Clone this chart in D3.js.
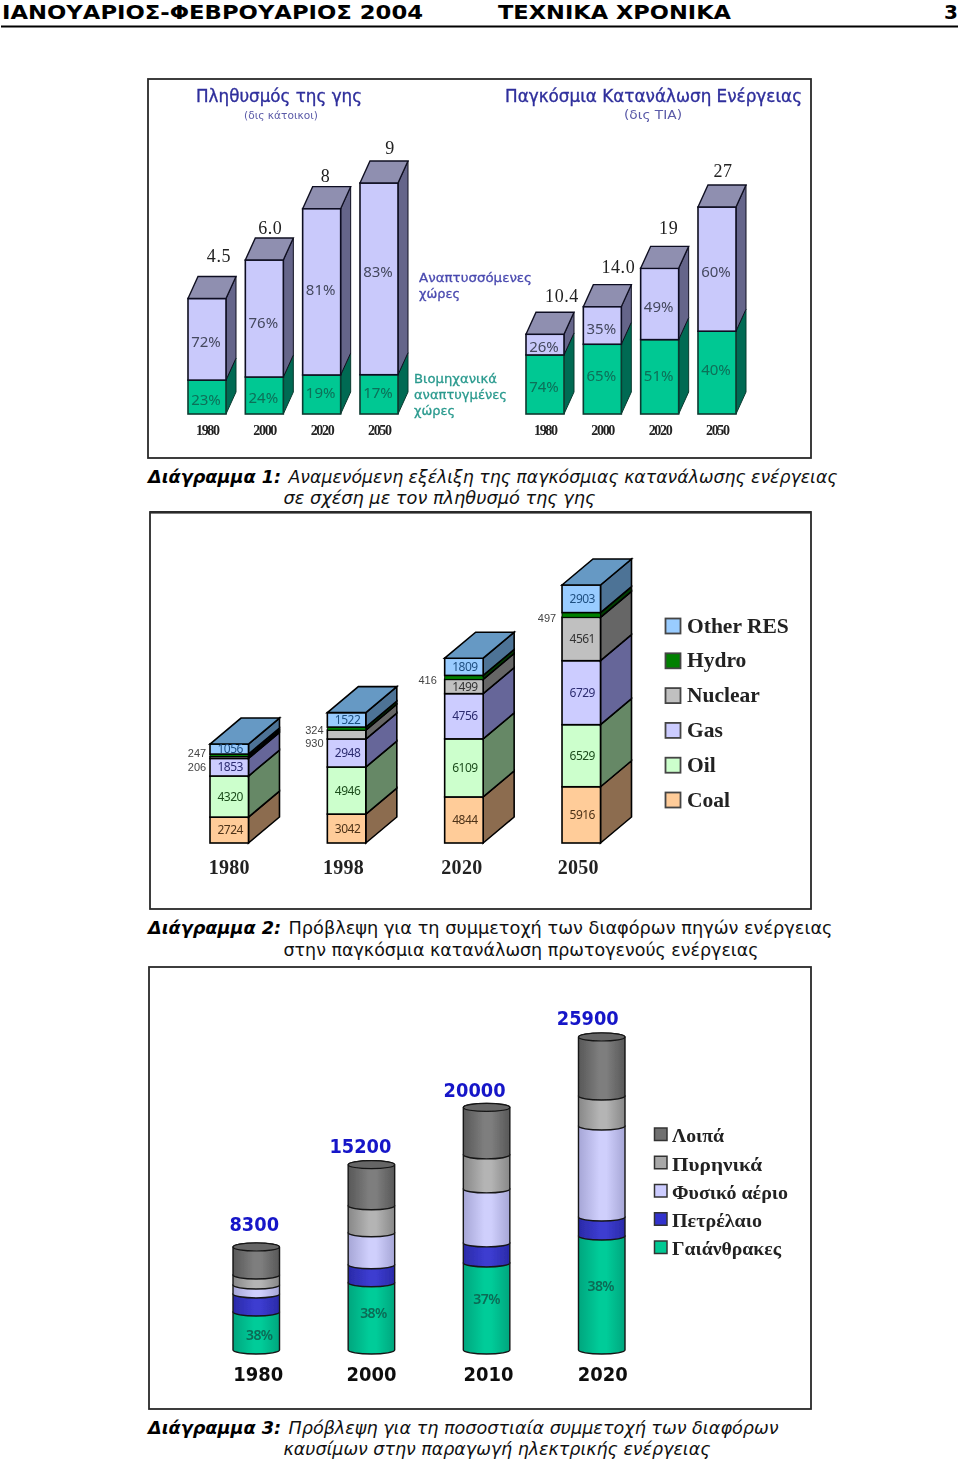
<!DOCTYPE html>
<html><head><meta charset="utf-8">
<script src="https://cdn.jsdelivr.net/npm/d3@7/dist/d3.min.js"></script>
<style>html,body{margin:0;padding:0;background:#fff}svg{display:block}</style>
</head><body><svg id="c" width="960" height="1459" xmlns="http://www.w3.org/2000/svg"></svg>
<script>
// ---------- data ----------
const popYears = ["1980","2000","2020","2050"];
const popTotals = [4.5,6.0,8,9];
const popTotalLabels = ["4.5","6.0","8","9"];
const popIndustrial = [1.32,1.44,1.52,1.53];
const popIndustrialPct = ["23%","24%","19%","17%"];
const popDevelopingPct = ["72%","76%","81%","83%"];
const enTotals = [10.4,14.0,19,27];
const enTotalLabels = ["10.4","14.0","19","27"];
const enIndustrial = [7.7,9.1,9.7,10.8];
const enIndustrialPct = ["74%","65%","51%","40%"];
const enDevelopingPct = ["26%","35%","49%","60%"];

const srcYears = ["1980","1998","2020","2050"];
const srcNames = ["Coal","Oil","Gas","Nuclear","Hydro","Other RES"];
const srcCoal = [2724,3042,4844,5916];
const srcOil = [4320,4946,6109,6529];
const srcGas = [1853,2948,4756,6729];
const srcNuclear = [206,930,1499,4561];
const srcHydro = [247,324,416,497];
const srcOther = [1056,1522,1809,2903];

const elecYears = ["1980","2000","2010","2020"];
const elecTotals = [8300,15200,20000,25900];
const elecNames = ["Γαιάνθρακες","Πετρέλαιο","Φυσικό αέριο","Πυρηνικά","Λοιπά"];
const elecCoal = [2850,5300,6960,9220];
const elecOil = [1510,1510,1680,1590];
const elecGas = [750,2680,4530,7630];
const elecNuclear = [840,2260,2850,2510];
const elecOthers = [2350,3450,3980,4950];
const elecCoalPct = ["38%","38%","37%","38%"];

// ---------- helpers ----------
const svg = d3.select("#c");
const defs = svg.append("defs");
defs.append("filter").attr("id","soft").attr("x","-5%").attr("y","-5%").attr("width","110%").attr("height","110%")
  .append("feGaussianBlur").attr("stdDeviation",0.5);
const SANS = "'DejaVu Sans',sans-serif", SERIF = "'Liberation Serif',serif", TAH = "'Noto Sans','DejaVu Sans',sans-serif", NARROW="'Liberation Sans',sans-serif";
function txt(g,s,x,y,o={}){
  const t=g.append("text").attr("x",x).attr("y",y).attr("dy",o.dy||"0.35em").text(s)
    .attr("font-family",o.font||SANS).attr("font-size",o.size||12).attr("fill",o.fill||"#000")
    .attr("text-anchor",o.anchor||"middle");
  if(o.weight)t.attr("font-weight",o.weight);
  if(o.style)t.attr("font-style",o.style);
  if(o.ls!==undefined)t.attr("letter-spacing",o.ls);
  if(o.len){t.attr("textLength",o.len).attr("lengthAdjust",o.adj||"spacingAndGlyphs");}
  if(o.bolden){t.attr("stroke",o.fill||"#000").attr("stroke-width",o.bolden);}
  return t;
}
function panel(g,x0,y0,x1,y1,w){
  g.append("rect").attr("x",x0).attr("y",y0).attr("width",x1-x0).attr("height",y1-y0)
   .attr("fill","#fff").attr("stroke","#2a2a2a").attr("stroke-width",w||1.8);
}

// ---------- header ----------
const hd = svg.append("g");
txt(hd,"ΙΑΝΟΥΑΡΙΟΣ-ΦΕΒΡΟΥΑΡΙΟΣ 2004",2,12,{anchor:"start",weight:700,size:20,len:421});
txt(hd,"ΤΕΧΝΙΚΑ ΧΡΟΝΙΚΑ",498,12,{anchor:"start",weight:700,size:20,len:233});
txt(hd,"3",958,12,{anchor:"end",weight:700,size:20});
hd.append("rect").attr("x",1).attr("y",25.5).attr("width",957).attr("height",2).attr("fill","#000");

// ---------- captions ----------
function caption(y1,y2,lab,l1,l2,italic,len1,len2){
  const st=italic?"italic":null;
  txt(svg,lab,148,y1,{anchor:"start",size:17.3,style:"italic",weight:700,len:133});
  txt(svg,l1,288.5,y1,{anchor:"start",size:17.3,style:st,fill:"#111",len:len1});
  txt(svg,l2,283.5,y2,{anchor:"start",size:17.3,style:st,fill:"#111",len:len2});
}
caption(477,498,"Διάγραμμα 1:","Αναμενόμενη εξέλιξη της παγκόσμιας κατανάλωσης ενέργειας","σε σχέση με τον πληθυσμό της γης",true,549,312);
caption(928,950,"Διάγραμμα 2:","Πρόβλεψη για τη συμμετοχή των διαφόρων πηγών ενέργειας","στην παγκόσμια κατανάλωση πρωτογενούς ενέργειας",false,544,475);
caption(1428,1449,"Διάγραμμα 3:","Πρόβλεψη για τη ποσοστιαία συμμετοχή των διαφόρων","καυσίμων στην παραγωγή ηλεκτρικής ενέργειας",true,490,427);

// ---------- chart 1 ----------
const c1 = svg.append("g").attr("filter","url(#soft)");
panel(c1,148,79,811,458);
const BLUEHEAD="#2f2f9c";
txt(c1,"Πληθυσμός της γης",279,96,{size:17,fill:BLUEHEAD,len:166,bolden:0.35});
txt(c1,"(δις κάτοικοι)",281,115,{size:11,fill:"#5a5aa8",len:74});
txt(c1,"Παγκόσμια Κατανάλωση Ενέργειας",653.5,96,{size:17,fill:BLUEHEAD,len:297,bolden:0.35});
txt(c1,"(δις ΤΙΑ)",653,115,{size:12,fill:"#5a5aa8",len:58});
txt(c1,"Αναπτυσσόμενες",419,277,{anchor:"start",size:13,fill:"#4a4ab0",len:113,bolden:0.3});
txt(c1,"χώρες",419,293,{anchor:"start",size:13,fill:"#4a4ab0",len:41,bolden:0.3});
txt(c1,"Βιομηχανικά",414,378,{anchor:"start",size:13,fill:"#2a9a8e",len:83,bolden:0.3});
txt(c1,"αναπτυγμένες",414,394,{anchor:"start",size:13,fill:"#2a9a8e",len:93,bolden:0.3});
txt(c1,"χώρες",414,410,{anchor:"start",size:13,fill:"#2a9a8e",len:41,bolden:0.3});

const DX1=10, DY1=22;
function box1(g,x,w,yT,yB,front,side,stroke){
  g.append("path").attr("d",`M${x+w},${yB}L${x+w+DX1},${yB-DY1}L${x+w+DX1},${yT-DY1}L${x+w},${yT}Z`)
    .attr("fill",side).attr("stroke",stroke).attr("stroke-width",1);
  g.append("rect").attr("x",x).attr("y",yT).attr("width",w).attr("height",yB-yT)
    .attr("fill",front).attr("stroke",stroke).attr("stroke-width",1.6);
}
function group1(x0,x1,domMax,rangeTop,years,totals,totalLabels,ind,indPct,devPct,iy,dy,tx,ty,yrx){
  const x=d3.scaleBand().domain(years).range([x0,x1]).paddingInner(0.337);
  const y=d3.scaleLinear().domain([0,domMax]).range([414,rangeTop]);
  const w=x.bandwidth();
  years.forEach((yr,i)=>{
    const X=x(yr), yT=y(totals[i]), yM=y(ind[i]), yB=y(0);
    box1(c1,X,w,yM,yB,"#00c893","#006a52","#0c3a30");
    box1(c1,X,w,yT,yM,"#c9c9fb","#65658a","#101020");
    c1.append("path").attr("d",`M${X},${yT}L${X+DX1},${yT-DY1}L${X+w+DX1},${yT-DY1}L${X+w},${yT}Z`)
      .attr("fill","#8f8fb0").attr("stroke","#111122").attr("stroke-width",1.4);
    txt(c1,totalLabels[i],X+w/2+tx[i],ty[i],{font:SERIF,size:18,fill:"#222",ls:0.6});
    txt(c1,devPct[i],X+w/2-1,dy[i],{font:TAH,size:15,fill:"#44485e"});
    txt(c1,indPct[i],X+w/2-1,iy[i],{font:TAH,size:15,fill:"#0b6f58"});
    txt(c1,yr,X+w/2+yrx,430,{font:SERIF,size:14,weight:700,fill:"#222",len:24,adj:"spacing"});
  });
}
group1(188,398,9,183,popYears,popTotals,popTotalLabels,popIndustrial,popIndustrialPct,popDevelopingPct,
  [400,398,393,393],[342,323,290,272],[12,6,4,11],[256,228,176,148],1);
group1(526,736,27,207,popYears,enTotals,enTotalLabels,enIndustrial,enIndustrialPct,enDevelopingPct,
  [387,376,376,370],[347,329,307,272],[17,16,9,6],[296,267,228,171],1);

// ---------- chart 2 ----------
const c2 = svg.append("g").attr("filter","url(#soft)");
panel(c2,150,512,811,909);
c2.append("rect").attr("x",150).attr("y",511).attr("width",661).attr("height",2.6).attr("fill","#2a2a2a");
const srcSeries=[srcCoal,srcOil,srcGas,srcNuclear,srcHydro,srcOther];
const srcFront=["#ffcc99","#ccffcc","#ccccff","#c0c0c0","#008000","#99ccff"];
const srcSide=["#8c6c50","#668866","#666699","#666666","#003c00","#4d7396"];
const srcText=["#4d3218","#1c4d1c","#2c2c70","#333","#fff","#1f4f80"];
const totals2=srcYears.map((_,i)=>d3.sum(srcSeries,s=>s[i]));
const x2=d3.scaleBand().domain(srcYears).range([210,600.5]).paddingInner(0.672);
const y2=d3.scaleLinear().domain([0,d3.max(totals2)]).range([843,585]);
const DX2=31, DY2=26, w2=x2.bandwidth();
const outsideLabels={ "1980":{3:[-13,767],4:[-13,753]}, "1998":{3:[-13,743.5],4:[-13,730.5]}, "2020":{4:[-17,680]}, "2050":{4:[-15,618]} };
const yr2Off=[0,-3,-2,-3];
srcYears.forEach((yr,i)=>{
  const X=x2(yr); let base=0;
  srcSeries.forEach((s,k)=>{
    const yB=y2(base), yT=y2(base+s[i]);
    c2.append("path").attr("d",`M${X+w2},${yB}L${X+w2+DX2},${yB-DY2}L${X+w2+DX2},${yT-DY2}L${X+w2},${yT}Z`)
      .attr("fill",srcSide[k]).attr("stroke","#000").attr("stroke-width",1.6);
    c2.append("rect").attr("x",X).attr("y",yT).attr("width",w2).attr("height",yB-yT)
      .attr("fill",srcFront[k]).attr("stroke","#000").attr("stroke-width",k==4?0.9:1.6);
    base+=s[i];
  });
  const yTop=y2(base);
  c2.append("path").attr("d",`M${X},${yTop}L${X+DX2},${yTop-DY2}L${X+w2+DX2},${yTop-DY2}L${X+w2},${yTop}Z`)
    .attr("fill","#6699c4").attr("stroke","#000").attr("stroke-width",1.6);
  base=0;
  srcSeries.forEach((s,k)=>{
    const mid=y2(base+s[i]/2), o=outsideLabels[yr][k];
    if(o) txt(c2,s[i],X+o[0],o[1],{font:NARROW,size:11,fill:"#444"});
    else  txt(c2,s[i],X+w2/2+1,mid,{font:TAH,size:12,fill:srcText[k],ls:-0.5});
    base+=s[i];
  });
  txt(c2,yr,X+w2/2+yr2Off[i],867,{font:SERIF,size:20,weight:700,fill:"#222",ls:0.3});
});
const legY2=d3.scalePoint().domain(srcNames.slice().reverse()).range([626,800]);
srcNames.forEach((n,k)=>{
  const yy=legY2(n);
  c2.append("rect").attr("x",665.5).attr("y",yy-7.5).attr("width",15).attr("height",15)
    .attr("fill",srcFront[k]).attr("stroke","#444").attr("stroke-width",1.8);
  txt(c2,n,687,yy-1,{anchor:"start",font:SERIF,size:21.5,weight:700,fill:"#222"});
});

// ---------- chart 3 ----------
const c3 = svg.append("g").attr("filter","url(#soft)");
panel(c3,149,967,811,1409);
const elecSeries=[elecCoal,elecOil,elecGas,elecNuclear,elecOthers];
const elecFill=[["#00a67e","#00cc99"],["#2a2aa8","#3c3cd0"],["#a6a6d6","#cfcffc"],["#888888","#b4b4b4"],["#585858","#7e7e7e"]];
const elecSwatch=["#00c893","#3333cc","#ccccff","#a8a8a8","#707070"];
elecFill.forEach((c,k)=>{
  const g=defs.append("linearGradient").attr("id","cy"+k).attr("x1","0").attr("x2","1").attr("y1","0").attr("y2","0");
  [[0,c[0]],[0.45,c[1]],[0.6,c[1]],[1,c[0]]].forEach(p=>g.append("stop").attr("offset",p[0]).attr("stop-color",p[1]));
});
const x3=d3.scaleBand().domain(elecYears).range([233,625]).paddingInner(0.596);
const y3=d3.scaleLinear().domain([0,25900]).range([1346,1037]);
const w3=x3.bandwidth(), RY=4;
const totalOff=[-2,-11,-12,-14], yearOff=[2,0,2,1], pctY=[1335,1313,1299,1286], pctOff=[3,2,0,-1];
const totalY=[1224,1146,1090,1018];
elecYears.forEach((yr,i)=>{
  const X=x3(yr), rx=w3/2;
  let base=0;
  elecSeries.forEach((s,k)=>{
    const yB=k==0?1350:y3(base), yT=y3(base+s[i]);
    c3.append("path")
      .attr("d",`M${X},${yT}L${X},${yB}A${rx},${RY} 0 0 0 ${X+w3},${yB}L${X+w3},${yT}A${rx},${RY} 0 0 0 ${X},${yT}Z`)
      .attr("fill",`url(#cy${k})`).attr("stroke","#151515").attr("stroke-width",1.4);
    base+=s[i];
  });
  const yTop=y3(base);
  c3.append("ellipse").attr("cx",X+rx).attr("cy",yTop).attr("rx",rx).attr("ry",RY)
    .attr("fill","#666").attr("stroke","#151515").attr("stroke-width",1.2);
  txt(c3,elecCoalPct[i],X+rx+pctOff[i],pctY[i],{font:TAH,size:14,weight:600,fill:"#0a6a55",ls:-0.6});
  txt(c3,elecTotals[i],X+rx+totalOff[i],totalY[i],{size:19,weight:700,fill:"#1616c8",len:String(elecTotals[i]).length*12.4});
  txt(c3,yr,X+rx+yearOff[i],1374,{size:19,weight:700,fill:"#111",len:50});
});
const legY3=d3.scalePoint().domain(elecNames).range([1247,1134]);
const legLen=[109,90,116,90,52];
elecNames.forEach((n,k)=>{
  const yy=legY3(n);
  c3.append("rect").attr("x",654.5).attr("y",yy-6).attr("width",12.5).attr("height",12.5)
    .attr("fill",elecSwatch[k]).attr("stroke","#333").attr("stroke-width",1.5);
  txt(c3,n,672,yy+2,{anchor:"start",font:SERIF,size:18,weight:700,fill:"#222",len:legLen[k]});
});
</script></body></html>
